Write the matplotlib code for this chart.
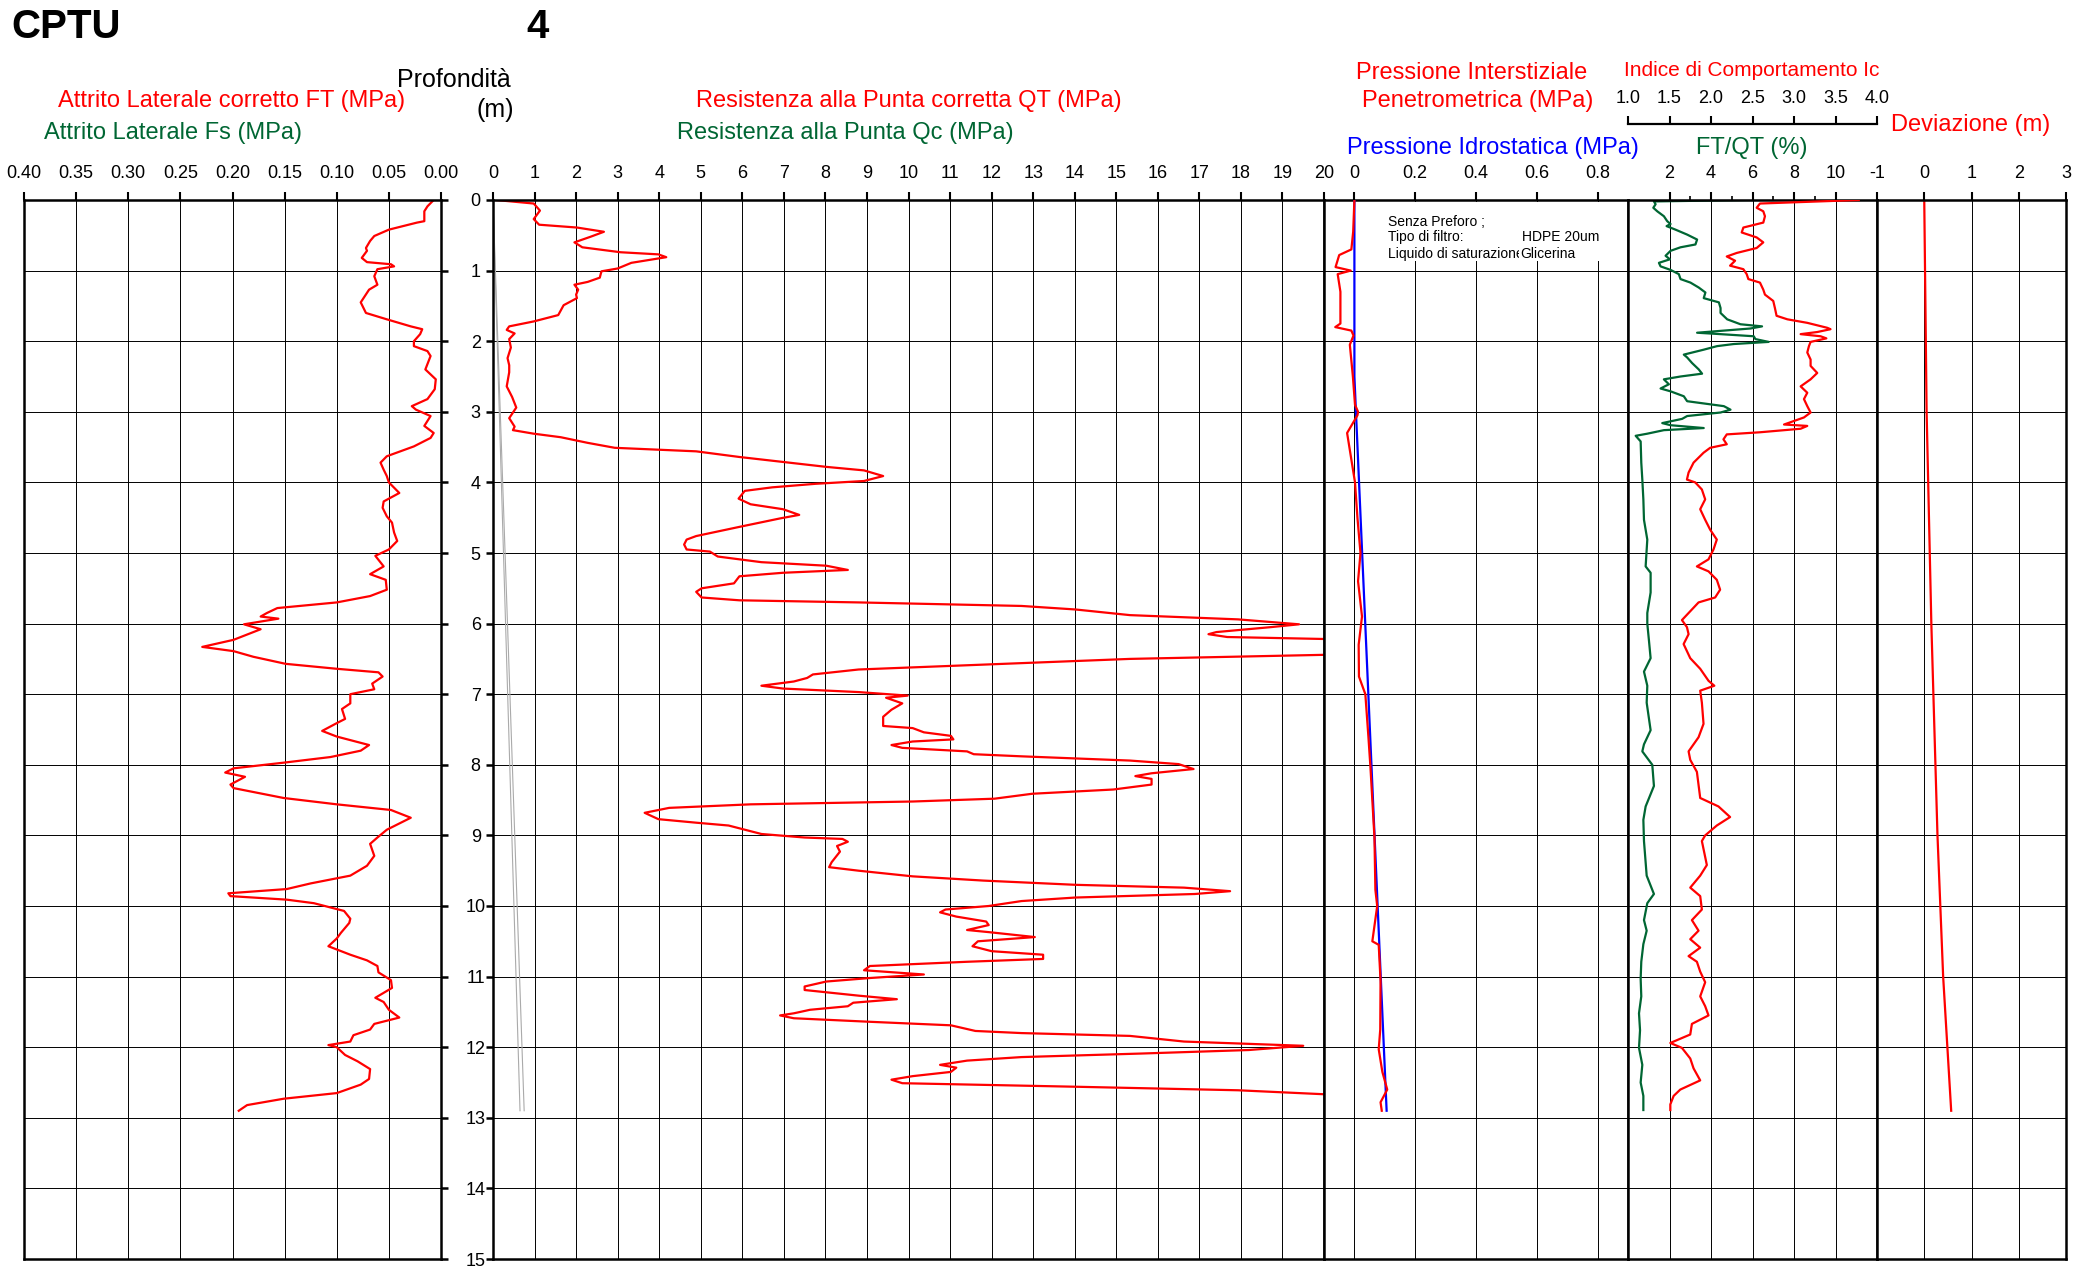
import matplotlib
matplotlib.use("Agg")
import matplotlib.pyplot as plt
from matplotlib.patches import Rectangle

plt.rcParams['font.family'] = ['Liberation Sans', 'DejaVu Sans']

# --- dati (profondità in m) ---
ft_prof = [0, 0.09, 0.16, 0.30, 0.32, 0.42, 0.51, 0.58, 0.68, 0.72,
           0.82, 0.88, 0.91, 0.94, 0.98, 1.08, 1.20, 1.27, 1.45, 1.60,
           1.69, 1.79, 1.83, 1.90, 2.00, 2.07, 2.14, 2.21, 2.40, 2.54,
           2.68, 2.82, 2.92, 2.97, 3.06, 3.20, 3.30, 3.37, 3.49, 3.63,
           3.72, 3.82, 3.91, 4.00, 4.15, 4.27, 4.36, 4.48, 4.57, 4.71,
           4.83, 4.95, 5.04, 5.19, 5.30, 5.38, 5.52, 5.61, 5.70, 5.78,
           5.85, 5.90, 5.93, 6.01, 6.08, 6.23, 6.33, 6.39, 6.47, 6.57,
           6.64, 6.69, 6.75, 6.85, 6.93, 7.00, 7.13, 7.21, 7.35, 7.41,
           7.52, 7.60, 7.72, 7.80, 7.89, 7.97, 8.05, 8.11, 8.17, 8.28,
           8.33, 8.47, 8.56, 8.64, 8.75, 8.92, 9.03, 9.12, 9.29, 9.43,
           9.57, 9.68, 9.76, 9.82, 9.86, 9.91, 9.96, 10.07, 10.18, 10.24,
           10.38, 10.46, 10.57, 10.69, 10.77, 10.85, 10.94, 11.05, 11.16, 11.30,
           11.36, 11.47, 11.58, 11.67, 11.75, 11.83, 11.92, 11.97, 12.00, 12.11,
           12.20, 12.31, 12.45, 12.53, 12.65, 12.73, 12.82, 12.90]
ft_val = [0.007, 0.013, 0.016, 0.016, 0.023, 0.050, 0.064, 0.068, 0.072, 0.071,
          0.076, 0.071, 0.048, 0.045, 0.061, 0.064, 0.061, 0.069, 0.077, 0.072,
          0.052, 0.029, 0.018, 0.020, 0.026, 0.026, 0.013, 0.010, 0.015, 0.005,
          0.006, 0.013, 0.028, 0.024, 0.010, 0.016, 0.007, 0.010, 0.026, 0.052,
          0.058, 0.055, 0.052, 0.050, 0.040, 0.055, 0.056, 0.052, 0.047, 0.045,
          0.042, 0.050, 0.063, 0.055, 0.068, 0.053, 0.052, 0.068, 0.100, 0.157,
          0.167, 0.173, 0.156, 0.189, 0.173, 0.199, 0.229, 0.199, 0.180, 0.149,
          0.100, 0.060, 0.056, 0.066, 0.064, 0.087, 0.087, 0.095, 0.092, 0.100,
          0.114, 0.100, 0.069, 0.077, 0.106, 0.151, 0.199, 0.207, 0.188, 0.202,
          0.199, 0.151, 0.100, 0.048, 0.029, 0.052, 0.061, 0.068, 0.064, 0.071,
          0.087, 0.125, 0.148, 0.204, 0.202, 0.148, 0.122, 0.093, 0.087, 0.088,
          0.096, 0.100, 0.108, 0.087, 0.071, 0.061, 0.060, 0.048, 0.047, 0.063,
          0.055, 0.050, 0.040, 0.064, 0.068, 0.084, 0.087, 0.108, 0.100, 0.092,
          0.080, 0.068, 0.069, 0.077, 0.100, 0.151, 0.186, 0.194]

qt_prof = [0.00, 0.05, 0.15, 0.27, 0.35, 0.39, 0.45, 0.52, 0.60, 0.67,
           0.74, 0.77, 0.81, 0.84, 0.89, 0.97, 1.01, 1.10, 1.16, 1.20,
           1.27, 1.34, 1.39, 1.49, 1.63, 1.72, 1.79, 1.84, 1.89, 1.97,
           2.09, 2.24, 2.34, 2.44, 2.64, 2.79, 2.94, 3.09, 3.21, 3.26,
           3.31, 3.36, 3.44, 3.51, 3.56, 3.64, 3.71, 3.78, 3.83, 3.91,
           3.98, 4.02, 4.07, 4.12, 4.23, 4.31, 4.38, 4.46, 4.51, 4.63,
           4.76, 4.81, 4.88, 4.95, 4.98, 5.05, 5.13, 5.18, 5.24, 5.28,
           5.33, 5.43, 5.50, 5.55, 5.63, 5.67, 5.70, 5.75, 5.80, 5.88,
           5.94, 6.01, 6.05, 6.12, 6.15, 6.19, 6.23, 6.43, 6.50, 6.65,
           6.72, 6.77, 6.82, 6.88, 6.92, 6.97, 7.02, 7.05, 7.13, 7.22,
           7.32, 7.45, 7.48, 7.54, 7.59, 7.64, 7.67, 7.72, 7.76, 7.81,
           7.85, 7.88, 7.94, 7.99, 8.06, 8.12, 8.16, 8.20, 8.28, 8.35,
           8.41, 8.48, 8.52, 8.56, 8.61, 8.68, 8.77, 8.82, 8.86, 8.92,
           8.98, 9.03, 9.05, 9.09, 9.15, 9.23, 9.38, 9.45, 9.50, 9.58,
           9.64, 9.70, 9.74, 9.79, 9.83, 9.88, 9.93, 10.00, 10.05, 10.09,
           10.15, 10.22, 10.27, 10.34, 10.37, 10.44, 10.50, 10.57, 10.64, 10.69,
           10.75, 10.79, 10.85, 10.91, 10.97, 11.02, 11.07, 11.14, 11.19, 11.27,
           11.32, 11.37, 11.42, 11.47, 11.52, 11.55, 11.59, 11.64, 11.69, 11.77,
           11.80, 11.84, 11.92, 11.98, 12.04, 12.09, 12.14, 12.19, 12.25, 12.29,
           12.35, 12.41, 12.46, 12.51, 12.56, 12.61, 12.68, 12.90]
qt_val = [0.07, 0.98, 1.13, 0.98, 1.11, 2.02, 2.67, 2.35, 1.96, 2.15,
          3.07, 3.98, 4.17, 3.85, 3.33, 3.00, 2.61, 2.57, 2.28, 1.96,
          2.05, 2.00, 2.02, 1.70, 1.57, 0.98, 0.39, 0.33, 0.52, 0.39,
          0.43, 0.35, 0.39, 0.39, 0.33, 0.46, 0.56, 0.39, 0.52, 0.48,
          0.98, 1.63, 2.28, 2.93, 4.89, 5.93, 6.98, 8.02, 8.93, 9.39,
          8.93, 7.76, 6.72, 6.06, 5.91, 6.20, 6.98, 7.37, 6.91, 5.93,
          4.89, 4.66, 4.60, 4.66, 5.22, 5.41, 6.46, 8.02, 8.54, 6.98,
          5.93, 5.80, 5.02, 4.89, 5.02, 5.93, 8.80, 12.72, 14.02, 15.33,
          17.93, 19.40, 18.72, 17.41, 17.22, 17.67, 21.0, 21.0, 15.33, 8.80,
          7.70, 7.56, 7.24, 6.46, 6.98, 8.80, 9.98, 9.46, 9.85, 9.59,
          9.39, 9.39, 10.10, 10.37, 11.02, 11.08, 10.10, 9.59, 9.85, 11.41,
          11.57, 12.72, 15.33, 16.50, 16.86, 15.85, 15.46, 15.85, 15.85, 14.93,
          12.98, 12.07, 10.10, 6.20, 4.24, 3.65, 3.98, 4.89, 5.67, 6.06,
          6.46, 7.50, 8.41, 8.54, 8.28, 8.35, 8.15, 8.09, 8.80, 10.10,
          11.80, 14.02, 16.63, 17.74, 16.89, 14.02, 12.72, 11.93, 10.89, 10.76,
          11.15, 11.87, 11.93, 11.41, 11.93, 13.04, 11.67, 11.54, 12.00, 13.24,
          13.24, 11.41, 9.07, 8.93, 10.37, 9.07, 8.02, 7.50, 7.50, 8.80,
          9.72, 8.67, 8.54, 7.63, 7.24, 6.91, 7.24, 9.07, 11.02, 11.61,
          12.72, 15.33, 16.63, 19.50, 18.19, 15.59, 12.72, 11.41, 10.76, 11.15,
          11.02, 10.10, 9.59, 9.85, 14.02, 17.93, 20.50, 22.00]

u_prof = [0.00, 0.45, 0.70, 0.78, 0.95, 1.00, 1.05, 1.30, 1.75, 1.80,
          1.85, 1.92, 2.05, 2.50, 2.90, 3.00, 3.05, 3.30, 4.00, 4.50,
          5.00, 5.40, 5.90, 6.30, 6.75, 7.00, 7.60, 8.05, 9.03, 9.77,
          10.00, 10.50, 10.55, 11.06, 11.75, 12.03, 12.35, 12.60, 12.78, 12.90]
u_val = [0.000, -0.004, -0.010, -0.050, -0.062, -0.012, -0.055, -0.046, -0.046, -0.063,
         -0.010, -0.003, -0.015, -0.005, 0.002, 0.012, 0.010, -0.024, 0.002, 0.010,
         0.020, 0.012, 0.025, 0.014, 0.015, 0.036, 0.046, 0.053, 0.066, 0.069,
         0.075, 0.059, 0.080, 0.086, 0.085, 0.080, 0.092, 0.108, 0.086, 0.090]

u0_prof = [0.0, 2.5, 12.9]
u0_val = [0.0, 0.0, 0.106]

rf_prof = [0.00, 0.02, 0.06, 0.11, 0.16, 0.23, 0.30, 0.34, 0.37, 0.42,
           0.49, 0.56, 0.63, 0.67, 0.72, 0.79, 0.84, 0.89, 0.94, 0.99,
           1.05, 1.12, 1.17, 1.24, 1.31, 1.39, 1.45, 1.53, 1.60, 1.69,
           1.76, 1.79, 1.82, 1.88, 1.90, 1.93, 1.97, 2.01, 2.04, 2.07,
           2.12, 2.19, 2.23, 2.31, 2.40, 2.46, 2.50, 2.54, 2.61, 2.67,
           2.71, 2.78, 2.85, 2.92, 2.97, 3.01, 3.06, 3.10, 3.16, 3.19,
           3.23, 3.26, 3.31, 3.34, 3.42, 3.72, 3.96, 4.24, 4.53, 4.81,
           5.19, 5.28, 5.56, 5.85, 6.00, 6.24, 6.49, 6.68, 6.88, 7.12,
           7.51, 7.71, 7.81, 8.00, 8.30, 8.59, 8.78, 9.08, 9.57, 9.83,
           9.96, 10.20, 10.35, 10.54, 10.79, 11.03, 11.28, 11.52, 11.76, 12.01,
           12.25, 12.50, 12.69, 12.89]
rf_val = [5.98, 1.25, 1.33, 1.22, 1.41, 1.73, 1.89, 2.05, 1.86, 2.29,
          2.85, 3.33, 3.25, 2.53, 2.05, 1.81, 2.02, 1.49, 1.57, 2.05,
          2.45, 2.53, 3.01, 3.41, 3.73, 3.65, 4.38, 4.46, 4.46, 4.78,
          5.42, 6.46, 5.90, 3.33, 4.46, 6.06, 6.14, 6.78, 5.10, 4.29,
          3.65, 2.69, 2.85, 3.09, 3.41, 3.57, 2.53, 1.73, 1.97, 1.57,
          2.05, 2.69, 2.85, 4.62, 4.94, 4.46, 2.85, 2.61, 1.65, 2.05,
          3.65, 1.73, 0.93, 0.37, 0.61, 0.64, 0.69, 0.74, 0.77, 0.93,
          0.85, 1.09, 1.09, 0.93, 0.93, 1.01, 1.09, 0.77, 0.93, 0.90,
          1.09, 0.77, 0.69, 1.17, 1.25, 0.85, 0.74, 0.77, 0.90, 1.25,
          0.93, 0.77, 0.90, 0.74, 0.64, 0.61, 0.64, 0.53, 0.58, 0.53,
          0.69, 0.61, 0.74, 0.74]

ic_prof = [0.00, 0.05, 0.11, 0.16, 0.23, 0.32, 0.39, 0.46, 0.53, 0.60,
           0.68, 0.75, 0.80, 0.86, 0.93, 0.98, 1.05, 1.12, 1.17, 1.27,
           1.34, 1.43, 1.53, 1.64, 1.69, 1.74, 1.81, 1.83, 1.87, 1.90,
           1.93, 1.96, 2.01, 2.07, 2.16, 2.26, 2.35, 2.45, 2.54, 2.64,
           2.73, 2.82, 2.92, 3.01, 3.08, 3.18, 3.20, 3.24, 3.29, 3.32,
           3.39, 3.46, 3.51, 3.58, 3.72, 3.86, 3.96, 4.00, 4.10, 4.24,
           4.38, 4.53, 4.67, 4.81, 4.95, 5.09, 5.19, 5.26, 5.38, 5.52,
           5.63, 5.70, 5.85, 5.95, 6.05, 6.15, 6.29, 6.49, 6.64, 6.81,
           6.88, 6.95, 7.12, 7.42, 7.61, 7.81, 7.93, 8.10, 8.47, 8.59,
           8.74, 8.86, 9.00, 9.08, 9.42, 9.57, 9.74, 9.86, 10.05, 10.20,
           10.35, 10.47, 10.59, 10.71, 10.79, 10.93, 11.08, 11.28, 11.42, 11.55,
           11.67, 11.82, 11.94, 12.01, 12.16, 12.30, 12.47, 12.60, 12.69, 12.81,
           12.89]
ic_val = [3.78, 2.59, 2.55, 2.63, 2.65, 2.63, 2.39, 2.37, 2.55, 2.63,
          2.55, 2.31, 2.19, 2.29, 2.23, 2.39, 2.43, 2.45, 2.59, 2.63,
          2.65, 2.75, 2.77, 2.79, 2.92, 3.16, 3.40, 3.44, 3.28, 3.08,
          3.32, 3.39, 3.20, 3.18, 3.16, 3.20, 3.20, 3.28, 3.20, 3.08,
          3.16, 3.12, 3.16, 3.20, 3.12, 2.88, 3.16, 3.08, 2.59, 2.19,
          2.15, 2.19, 1.99, 1.91, 1.79, 1.73, 1.71, 1.81, 1.89, 1.93,
          1.87, 1.93, 1.99, 2.07, 2.03, 1.97, 1.83, 1.97, 2.07, 2.11,
          2.05, 1.85, 1.73, 1.65, 1.71, 1.73, 1.67, 1.75, 1.87, 1.97,
          2.04, 1.87, 1.89, 1.91, 1.85, 1.73, 1.75, 1.83, 1.87, 2.09,
          2.23, 2.07, 1.93, 1.89, 1.95, 1.87, 1.75, 1.87, 1.89, 1.77,
          1.85, 1.75, 1.87, 1.73, 1.83, 1.87, 1.93, 1.87, 1.93, 1.97,
          1.77, 1.75, 1.51, 1.65, 1.75, 1.79, 1.87, 1.63, 1.55, 1.51,
          1.51]

dev_prof = [0, 3, 6, 9, 11, 12.9]
dev_val = [0, 0.05, 0.15, 0.28, 0.40, 0.57]

incl_prof = [0, 12.9]
incl_a = [0, 0.65]
incl_b = [0, 0.75]

ROSSO = '#FF0000'
VERDE = '#006633'
BLU = '#0000FF'

W, H = 2089, 1271
Y_TOP, Y_BOT = 200, 1259

fig = plt.figure(figsize=(W / 100, H / 100), dpi=100)


def crea_pannello(x0, x1, xlim, ticks, etichette):
    ax = fig.add_axes([x0 / W, 1 - Y_BOT / H, (x1 - x0) / W, (Y_BOT - Y_TOP) / H])
    ax.set_xlim(*xlim)
    ax.set_ylim(15, 0)
    ax.xaxis.tick_top()
    ax.set_xticks(ticks)
    ax.set_xticklabels(etichette)
    ax.set_yticks(range(16))
    ax.set_yticklabels([])
    ax.set_axisbelow(True)
    ax.grid(True, color='black', lw=0.7)
    ax.tick_params(axis='x', direction='out', length=6, width=1.5, labelsize=13, pad=7)
    ax.tick_params(axis='y', length=0)
    for sp in ax.spines.values():
        sp.set_linewidth(1.8)
    return ax


def testo(x, y, s, **kw):
    kw.setdefault('ha', 'center')
    fig.text(x / W, 1 - y / H, s, va='center', **kw)


# pannello 1 - attrito laterale
ft_ticks = [0.40, 0.35, 0.30, 0.25, 0.20, 0.15, 0.10, 0.05, 0.00]
ax1 = crea_pannello(24, 441, (0.40, 0.0), ft_ticks, [f'{t:.2f}' for t in ft_ticks])
ax1.plot(ft_val, ft_prof, color=ROSSO, lw=1.6)
ax1.yaxis.tick_right()
ax1.set_yticklabels([str(i) for i in range(16)])
ax1.tick_params(axis='y', direction='out', length=5, width=1.8, labelsize=13, pad=20)
for lab in ax1.get_yticklabels():
    lab.set_horizontalalignment('center')

# pannello 2 - resistenza alla punta
ax2 = crea_pannello(493, 1324, (0, 20), range(21), [str(i) for i in range(21)])
ax2.plot(incl_a, incl_prof, color='#aaaaaa', lw=0.8)
ax2.plot(incl_b, incl_prof, color='#aaaaaa', lw=0.8)
ax2.plot(qt_val, qt_prof, color=ROSSO, lw=1.6)
ax2.tick_params(axis='y', direction='out', length=5, width=1.8)

# pannello 3 - pressione interstiziale
u_ticks = [0, 0.2, 0.4, 0.6, 0.8]
ax3 = crea_pannello(1324, 1628, (-0.1, 0.9), u_ticks, ['0', '0.2', '0.4', '0.6', '0.8'])
ax3.add_patch(Rectangle((0.1, 0.03), 0.74, 0.84, facecolor='white', edgecolor='none', zorder=1.5))
ax3.plot(u0_val, u0_prof, color=BLU, lw=1.6, zorder=3)
ax3.plot(u_val, u_prof, color=ROSSO, lw=1.6, zorder=3)
ax3.text(0.112, 0.31, 'Senza Preforo ;', fontsize=10, va='center', zorder=4)
ax3.text(0.112, 0.53, 'Tipo di filtro:', fontsize=10, va='center', zorder=4)
ax3.text(0.112, 0.76, 'Liquido di saturazione', fontsize=10, va='center', zorder=4)
ax3.text(0.55, 0.53, 'HDPE 20um', fontsize=10, va='center', zorder=4)
ax3.text(0.545, 0.76, 'Glicerina', fontsize=10, va='center', zorder=5,
         bbox=dict(facecolor='white', edgecolor='none', pad=0.5))

# pannello 4 - rapporto di attrito e Ic
ax4 = crea_pannello(1628, 1877, (0, 12), [2, 4, 6, 8, 10], ['2', '4', '6', '8', '10'])
ax4.plot(rf_val, rf_prof, color=VERDE, lw=1.6)

# asse Ic in alto (twiny sposta i tick di ax4 in basso: li rimetto in alto)
ax4b = ax4.twiny()
ax4.xaxis.tick_top()
ax4.set_xticks([3, 5, 7, 9], minor=True)
ax4.tick_params(axis='x', which='both', top=True, labeltop=True, bottom=False, labelbottom=False)
ax4.tick_params(axis='x', which='major', direction='out', length=6, width=1.5, labelsize=13, pad=7)
ax4.tick_params(axis='x', which='minor', direction='out', length=3, width=1.2)

ax4b.set_xlim(1, 4)
ic_ticks = [1.0, 1.5, 2.0, 2.5, 3.0, 3.5, 4.0]
ax4b.set_xticks(ic_ticks)
ax4b.set_xticklabels([f'{t:.1f}' for t in ic_ticks])
ax4b.spines['top'].set_position(('outward', 55))
ax4b.spines['top'].set_linewidth(1.6)
for nome in ['bottom', 'left', 'right']:
    ax4b.spines[nome].set_visible(False)
ax4b.tick_params(axis='x', direction='out', length=6, width=1.5, labelsize=13, pad=6,
                 top=True, labeltop=True, bottom=False, labelbottom=False)
ax4b.plot(ic_val, ic_prof, color=ROSSO, lw=1.6)
ax4b.set_ylim(15, 0)

# pannello 5 - deviazione
ax5 = crea_pannello(1877, 2066, (-1, 3), [-1, 0, 1, 2, 3], ['-1', '0', '1', '2', '3'])
ax5.plot(dev_val, dev_prof, color=ROSSO, lw=1.6)

# intestazioni
testo(11, 27, 'CPTU', fontsize=29, fontweight='bold', ha='left')
testo(538, 27, '4', fontsize=29, fontweight='bold')
testo(454, 80, 'Profondità', fontsize=18)
testo(495, 110, '(m)', fontsize=18)
testo(232, 101, 'Attrito Laterale corretto FT (MPa)', fontsize=17, color=ROSSO)
testo(173, 133, 'Attrito Laterale Fs (MPa)', fontsize=17, color=VERDE)
testo(909, 101, 'Resistenza alla Punta corretta QT (MPa)', fontsize=17, color=ROSSO)
testo(845, 133, 'Resistenza alla Punta Qc (MPa)', fontsize=17, color=VERDE)
testo(1472, 73, 'Pressione Interstiziale', fontsize=17, color=ROSSO)
testo(1478, 101, 'Penetrometrica (MPa)', fontsize=17, color=ROSSO)
testo(1752, 71, 'Indice di Comportamento Ic', fontsize=15, color=ROSSO)
testo(1971, 125, 'Deviazione (m)', fontsize=17, color=ROSSO)
testo(1493, 148, 'Pressione Idrostatica (MPa)', fontsize=17, color=BLU)
testo(1752, 148, 'FT/QT (%)', fontsize=17, color=VERDE)

fig.savefig('out.png', dpi=100)
